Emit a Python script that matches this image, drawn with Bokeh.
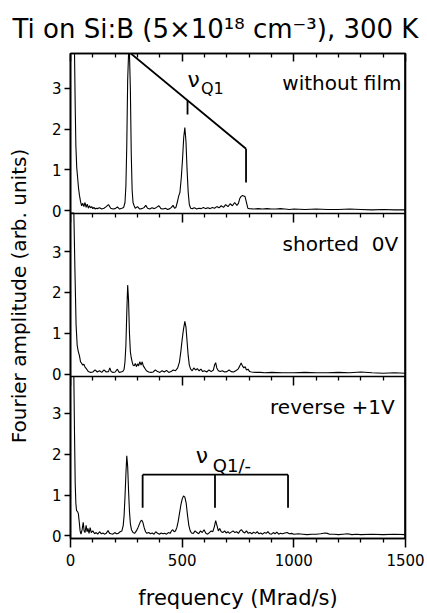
import numpy as np
from bokeh.plotting import figure
from bokeh.models import Range1d, LinearAxis, FixedTicker, CustomJSTickFormatter, Label, Span
from bokeh.embed import file_html
from bokeh.resources import INLINE

FONT = "DejaVu Sans"

# ---------------- data ----------------
freq_without = [0, 5, 10, 15, 18, 21, 24, 28, 32, 36, 40, 45, 50, 55, 60, 65, 70, 75, 80, 85, 90, 95, 100,
                105, 110, 115, 120, 130, 140, 150, 160, 170, 180, 190, 200, 210, 220, 230, 238, 244, 248,
                252, 256, 260, 264, 268, 272, 276, 280, 285, 290, 300, 310, 320, 330, 337, 345, 355, 365,
                375, 385, 396, 405, 415, 425, 435, 445, 452, 459, 466, 472, 478, 484, 490, 496, 502, 507,
                512, 517, 522, 527, 532, 538, 545, 555, 565, 575, 585, 595, 605, 615, 625, 635, 645, 655,
                665, 675, 685, 695, 705, 715, 725, 735, 745, 752, 758, 764, 770, 776, 782, 788, 794, 800,
                820, 840, 860, 880, 900, 920, 940, 960, 980, 1000, 1050, 1100, 1150, 1200, 1250, 1300,
                1350, 1400, 1450, 1500]
amp_without = [6.0, 6.0, 6.0, 5.0, 3.9, 2.6, 1.6, 1.05, 0.8, 0.55, 0.38, 0.22, 0.12, 0.18, 0.1, 0.2, 0.08,
               0.16, 0.06, 0.12, 0.07, 0.1, 0.05, 0.08, 0.04, 0.06, 0.05, 0.07, 0.04, 0.06, 0.1, 0.15, 0.06,
               0.04, 0.05, 0.09, 0.04, 0.06, 0.08, 0.2, 0.6, 1.6, 3.2, 4.6, 4.6, 3.0, 1.4, 0.5, 0.2, 0.12,
               0.06, 0.1, 0.04, 0.05, 0.08, 0.13, 0.06, 0.04, 0.07, 0.05, 0.08, 0.12, 0.05, 0.04, 0.06,
               0.03, 0.05, 0.08, 0.13, 0.06, 0.08, 0.2, 0.35, 0.45, 0.8, 1.3, 1.8, 2.04, 1.7, 1.0, 0.45,
               0.15, 0.06, 0.05, 0.07, 0.04, 0.06, 0.05, 0.08, 0.05, 0.07, 0.05, 0.08, 0.06, 0.1, 0.07,
               0.12, 0.08, 0.15, 0.1, 0.17, 0.12, 0.2, 0.13, 0.18, 0.3, 0.35, 0.37, 0.36, 0.34, 0.2, 0.06,
               0.05, 0.04, 0.05, 0.04, 0.05, 0.04, 0.04, 0.05, 0.04, 0.03, 0.04, 0.03, 0.04, 0.03, 0.03,
               0.04, 0.03, 0.02, 0.03, 0.02, 0.02]

freq_shorted = [0, 5, 10, 15, 20, 25, 30, 35, 40, 45, 50, 55, 60, 65, 70, 75, 80, 85, 90, 100, 110, 120,
                130, 140, 150, 160, 170, 176, 182, 190, 200, 210, 218, 226, 234, 240, 244, 248, 252, 256,
                260, 264, 268, 272, 276, 280, 285, 290, 295, 300, 305, 310, 316, 321, 326, 332, 340, 350,
                360, 370, 380, 390, 400, 410, 420, 430, 440, 450, 460, 470, 480, 488, 494, 500, 506, 512,
                517, 522, 527, 532, 538, 545, 552, 560, 568, 576, 584, 592, 600, 610, 620, 630, 640, 645,
                650, 655, 662, 670, 680, 690, 700, 710, 720, 730, 740, 750, 758, 764, 770, 776, 782, 788,
                795, 802, 810, 830, 850, 870, 900, 950, 1000, 1050, 1100, 1150, 1200, 1250, 1300, 1350,
                1400, 1450, 1500]
amp_shorted = [6.0, 6.0, 6.0, 5.0, 2.5, 1.2, 0.7, 0.55, 0.45, 0.3, 0.26, 0.22, 0.24, 0.17, 0.14, 0.1,
               0.06, 0.05, 0.04, 0.05, 0.1, 0.05, 0.08, 0.04, 0.1, 0.05, 0.06, 0.15, 0.06, 0.04, 0.05,
               0.12, 0.04, 0.05, 0.06, 0.12, 0.3, 0.7, 1.5, 2.18, 1.8, 1.0, 0.55, 0.4, 0.3, 0.22, 0.2,
               0.26, 0.18, 0.25, 0.2, 0.3, 0.22, 0.3, 0.2, 0.15, 0.08, 0.05, 0.04, 0.05, 0.1, 0.06, 0.04,
               0.08, 0.05, 0.09, 0.04, 0.06, 0.1, 0.08, 0.15, 0.3, 0.55, 0.85, 1.1, 1.29, 1.15, 0.8, 0.45,
               0.22, 0.12, 0.08, 0.15, 0.1, 0.13, 0.08, 0.12, 0.06, 0.08, 0.05, 0.1, 0.06, 0.1, 0.22,
               0.28, 0.15, 0.08, 0.06, 0.08, 0.05, 0.06, 0.1, 0.06, 0.05, 0.08, 0.12, 0.2, 0.27, 0.2,
               0.15, 0.18, 0.1, 0.12, 0.06, 0.05, 0.04, 0.04, 0.03, 0.04, 0.03, 0.03, 0.04, 0.03, 0.03,
               0.04, 0.03, 0.05, 0.03, 0.02, 0.03, 0.02]

freq_reverse = [0, 5, 10, 15, 18, 21, 24, 27, 31, 35, 39, 43, 47, 52, 57, 61, 65, 70, 74, 78, 83, 88, 93,
                100, 108, 115, 122, 130, 138, 145, 152, 160, 168, 175, 182, 190, 198, 206, 214, 222, 230,
                236, 240, 244, 248, 252, 256, 260, 264, 268, 273, 280, 287, 295, 302, 308, 314, 319, 324,
                330, 336, 342, 350, 358, 366, 374, 382, 390, 398, 406, 414, 422, 430, 438, 446, 452, 458,
                464, 470, 476, 482, 488, 494, 500, 506, 512, 518, 524, 530, 536, 542, 550, 558, 566, 574,
                582, 590, 598, 606, 614, 622, 630, 637, 644, 650, 656, 662, 668, 675, 682, 690, 697, 705,
                712, 720, 728, 736, 744, 752, 760, 766, 772, 780, 788, 796, 804, 812, 820, 828, 836, 844,
                852, 860, 868, 876, 884, 892, 900, 908, 916, 924, 932, 940, 950, 960, 970, 980, 990, 1000,
                1020, 1040, 1060, 1080, 1100, 1120, 1140, 1150, 1160, 1180, 1200, 1220, 1240, 1260, 1280,
                1300, 1350, 1400, 1450, 1500]
amp_reverse = [6.0, 6.0, 6.0, 4.5, 2.5, 1.3, 0.8, 0.62, 0.6, 0.55, 0.35, 0.12, 0.04, 0.15, 0.33, 0.12,
               0.08, 0.26, 0.1, 0.18, 0.06, 0.2, 0.08, 0.12, 0.05, 0.08, 0.04, 0.1, 0.05, 0.07, 0.04, 0.06,
               0.13, 0.06, 0.05, 0.04, 0.08, 0.05, 0.06, 0.1, 0.12, 0.25, 0.5, 0.95, 1.5, 1.96, 1.7, 1.1,
               0.6, 0.3, 0.15, 0.08, 0.06, 0.12, 0.2, 0.28, 0.36, 0.38, 0.33, 0.2, 0.1, 0.06, 0.08, 0.05,
               0.07, 0.04, 0.1, 0.06, 0.04, 0.07, 0.05, 0.06, 0.04, 0.08, 0.06, 0.12, 0.15, 0.1, 0.12, 0.2,
               0.35, 0.55, 0.75, 0.9, 0.98, 0.95, 0.8, 0.5, 0.25, 0.12, 0.07, 0.06, 0.12, 0.08, 0.05, 0.12,
               0.08, 0.15, 0.06, 0.04, 0.08, 0.12, 0.1, 0.22, 0.37, 0.25, 0.12, 0.18, 0.1, 0.08, 0.12,
               0.07, 0.1, 0.06, 0.09, 0.12, 0.08, 0.1, 0.06, 0.13, 0.15, 0.1, 0.07, 0.12, 0.06, 0.08, 0.05,
               0.09, 0.06, 0.1, 0.05, 0.07, 0.04, 0.08, 0.06, 0.1, 0.05, 0.04, 0.08, 0.05, 0.09, 0.04,
               0.06, 0.05, 0.07, 0.08, 0.05, 0.06, 0.04, 0.05, 0.04, 0.03, 0.04, 0.04, 0.05, 0.07, 0.06,
               0.04, 0.04, 0.03, 0.04, 0.05, 0.03, 0.04, 0.03, 0.04, 0.03, 0.04, 0.03]

x_major_ticks = [0, 500, 1000, 1500]
x_minor_ticks = [100, 200, 300, 400, 600, 700, 800, 900, 1100, 1200, 1300, 1400]
y_ticks = [0, 1, 2, 3]

panel_labels = ["without film", "shorted \u00a00V", "reverse +1V"]
title_text = "Ti on Si:B (5\u00d710\u00b9\u2078 cm\u207b\u00b3), 300 K"
x_label = "frequency (Mrad/s)"
y_label = "Fourier amplitude (arb. units)"

# quadrupole frequency markers
q1_slant_f = [269, 786]
q1_slant_v = [3.86, 1.52]
q1_drop_v = [1.52, 0.69]
q1_mid_f = 524
q1_mid_v = [2.70, 2.36]
q1m_f = [323, 647, 974]
q1m_top = 1.5
q1m_bottom = 0.69

# ---------------- layout of the stacked panels ----------------
offsets = [7.975, 3.968, 0.0]        # zero line of each panel
tops = [11.83, 7.917, 3.909]         # upper edge of each panel
y_lo = -0.066
lift = 0.18                          # text baseline correction (data units)

p = figure(width=427, height=613, x_range=Range1d(0, 1500), y_range=Range1d(y_lo, tops[0]),
           output_backend="svg", toolbar_location=None,
           min_border_left=70, min_border_right=22, min_border_top=53, min_border_bottom=75)
p.xgrid.visible = False
p.ygrid.visible = False
p.outline_line_color = "black"
p.outline_line_width = 1.6
p.background_fill_color = "white"
p.border_fill_color = "white"

p.title.text = title_text
p.title.align = "left"
p.title.vertical_align = "bottom"
p.title.offset = -58
p.title.text_font = FONT
p.title.text_font_size = "26px"
p.title.text_font_style = "normal"
p.title.text_color = "black"
p.title.standoff = 20

xt = FixedTicker(ticks=x_major_ticks, minor_ticks=x_minor_ticks)

xa = p.xaxis[0]
xa.ticker = xt
xa.major_tick_in = 0
xa.major_tick_out = 9
xa.minor_tick_in = 0
xa.minor_tick_out = 4
xa.axis_line_width = 1.6
xa.major_tick_line_width = 1.5
xa.minor_tick_line_width = 1.3
xa.major_label_text_font = FONT
xa.major_label_text_font_size = "15px"
xa.major_label_text_color = "black"
xa.major_label_standoff = 6
xa.axis_label = x_label
xa.axis_label_text_font = FONT
xa.axis_label_text_font_size = "21px"
xa.axis_label_text_font_style = "normal"
xa.axis_label_text_color = "black"
xa.axis_label_standoff = 17

ya = p.yaxis[0]
ya.ticker = FixedTicker(ticks=[o + t for o in offsets for t in y_ticks], minor_ticks=[])
ya.formatter = CustomJSTickFormatter(code="""
const offs = [%s];
for (const o of offs) { const d = tick - o; if (d > -0.5 && d < 3.5) { return Math.round(d).toFixed(0); } }
return "";
""" % ", ".join(str(o) for o in offsets))
ya.major_tick_in = 0
ya.major_tick_out = 6
ya.minor_tick_in = 0
ya.minor_tick_out = 0
ya.axis_line_width = 1.6
ya.major_tick_line_width = 1.5
ya.major_label_text_font = FONT
ya.major_label_text_font_size = "15px"
ya.major_label_text_color = "black"
ya.major_label_standoff = 3
ya.axis_label = y_label
ya.axis_label_text_font = FONT
ya.axis_label_text_font_size = "20px"
ya.axis_label_text_font_style = "normal"
ya.axis_label_text_color = "black"
ya.axis_label_standoff = 18

blank = CustomJSTickFormatter(code="return '';")
top_axis = LinearAxis(ticker=xt, formatter=blank, major_tick_in=8, major_tick_out=0,
                      minor_tick_in=4, minor_tick_out=0, axis_line_width=1.6,
                      major_tick_line_width=1.5, minor_tick_line_width=1.3,
                      major_label_text_font_size="0px")
p.add_layout(top_axis, "above")

for b in tops[1:]:
    ax = LinearAxis(ticker=xt, formatter=blank, fixed_location=b, major_tick_in=0, major_tick_out=9,
                    minor_tick_in=0, minor_tick_out=4, axis_line_width=1.6,
                    major_tick_line_width=1.5, minor_tick_line_width=1.3,
                    major_label_text_font_size="0px")
    p.add_layout(ax, "below")

p.add_layout(Span(location=1500, dimension="height", line_color="black", line_width=2.6))

# ---------------- spectra ----------------
series = [(freq_without, amp_without), (freq_shorted, amp_shorted), (freq_reverse, amp_reverse)]
for (f, a), off, top in zip(series, offsets, tops):
    yv = np.minimum(np.array(a, dtype=float), top - off) + off
    p.line(f, yv, line_color="black", line_width=1.1)

# panel labels
label_x = [1482, 1467, 1452]
label_v = [2.96, 3.01, 2.99]
for txt, lx, lv, off in zip(panel_labels, label_x, label_v, offsets):
    p.add_layout(Label(x=lx, y=lv + off + lift, text=txt, text_align="right", text_baseline="alphabetic",
                       text_font=FONT, text_font_size="20px", text_color="black"))

# nu_Q1 marker, top panel
o1 = offsets[0]
p.line(q1_slant_f, [v + o1 for v in q1_slant_v], line_color="black", line_width=1.8)
p.line([q1_slant_f[1]] * 2, [v + o1 for v in q1_drop_v], line_color="black", line_width=1.8)
p.line([q1_mid_f] * 2, [v + o1 for v in q1_mid_v], line_color="black", line_width=1.8)
p.add_layout(Label(x=524, y=3.03 + o1 + lift, text="\u03bd", text_align="left", text_baseline="alphabetic",
                   text_font=FONT, text_font_size="22px", text_color="black"))
p.add_layout(Label(x=584, y=2.82 + o1 + lift, text="Q1", text_align="left", text_baseline="alphabetic",
                   text_font=FONT, text_font_size="16px", text_color="black"))

# nu_Q1/- marker, bottom panel
o3 = offsets[2]
p.line([q1m_f[0], q1m_f[-1]], [q1m_top + o3] * 2, line_color="black", line_width=1.8)
for fq in q1m_f:
    p.line([fq, fq], [q1m_top + o3, q1m_bottom + o3], line_color="black", line_width=1.8)
p.add_layout(Label(x=561, y=1.80 + o3 + lift, text="\u03bd", text_align="left", text_baseline="alphabetic",
                   text_font=FONT, text_font_size="22px", text_color="black"))
p.add_layout(Label(x=637, y=1.55 + o3 + lift, text="Q1/-", text_align="left", text_baseline="alphabetic",
                   text_font=FONT, text_font_size="18px", text_color="black"))

open("out.html", "w").write(file_html(p, INLINE))
